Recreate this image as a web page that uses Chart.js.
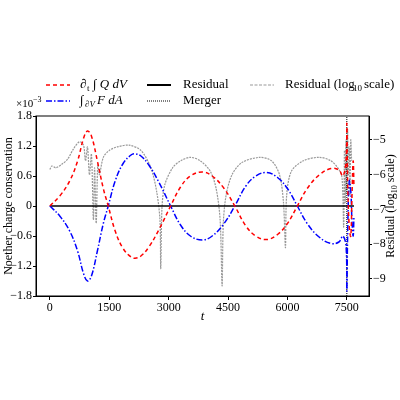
<!DOCTYPE html>
<html><head><meta charset="utf-8">
<script src="https://cdn.jsdelivr.net/npm/chart.js@4"></script>
<style>html,body{margin:0;background:#fff}#w{width:400px;height:400px}</style>
</head><body><div id="w"><canvas id="c"></canvas></div>
<script>
const redT=[0,250,500,700,850,950,1050,1200,1350,1475,1650,1850,2050,2150,2300,2500,2750,3050,3300,3550,3850,4100,4400,4670,4950,5200,5480,5750,6000,6250,6500,6800,7100,7300,7400,7480,7500,7520,7560,7600,7630,7660,7680];
const redV=[0,0.2,0.5,0.9,1.35,1.5,1.4,0.9,0.35,0,-0.5,-0.85,-1.02,-1.045,-1.0,-0.82,-0.48,0,0.38,0.6,0.68,0.6,0.35,0,-0.4,-0.6,-0.67,-0.57,-0.35,0,0.35,0.62,0.75,0.72,0.6,0.9,1.65,0.5,-0.4,-0.6,0.2,0.9,0.4];
const blueV=[0,-0.2,-0.5,-0.9,-1.35,-1.5,-1.4,-0.9,-0.35,0,0.5,0.85,1.02,1.045,1.0,0.82,0.48,0,-0.38,-0.6,-0.68,-0.6,-0.35,0,0.4,0.6,0.67,0.57,0.35,0,-0.35,-0.62,-0.75,-0.72,-0.6,-0.8,-1.7,-0.6,0.5,0.3,-0.3,-0.6,-0.2];
const resT=[0,7680];
const resV=[0,0];
const logT=[0,50,150,300,450,600,750,850,900,950,1000,1050,1100,1130,1170,1210,1250,1350,1500,1700,2000,2300,2550,2700,2780,2800,2830,2900,3100,3300,3550,3800,4050,4200,4300,4350,4380,4450,4600,4850,5300,5600,5800,5900,5950,5980,6100,6400,6800,7100,7300,7380,7420,7440,7460,7480,7500,7520,7540,7560,7580,7600,7620];
const logV=[-5.85,-5.75,-5.8,-5.7,-5.55,-5.25,-5.05,-5.15,-5.6,-5.2,-6.0,-5.4,-7.3,-5.8,-7.4,-5.7,-6.0,-5.5,-5.3,-5.2,-5.15,-5.3,-5.8,-6.5,-7.3,-8.7,-7.0,-6.3,-5.8,-5.6,-5.5,-5.6,-5.9,-6.4,-7.3,-9.2,-7.4,-6.6,-6.0,-5.65,-5.5,-5.6,-6.0,-6.8,-8.1,-6.6,-5.9,-5.6,-5.5,-5.6,-5.85,-6.1,-7.5,-5.3,-6.8,-5.0,-6.5,-4.7,-6.0,-5.2,-6.6,-5.0,-5.6];
const xTicks=[0,1500,3000,4500,6000,7500];
const yTicks=[-1.8,-1.2,-0.6,0,0.6,1.2,1.8];
const y2Ticks=[-9,-8,-7,-6,-5];
const mergerT=7500;
const pts=(t,v)=>t.map((x,i)=>({x,y:v[i]}));
const F='"Liberation Serif", serif';
const fmt=v=>String(v).replace('-','\u2212');
const legend={id:'lg',afterDraw(c){const g=c.ctx;g.save();g.font='13px '+F;g.textBaseline='middle';g.fillStyle='#000';
const L=(x,y,col,d,w)=>{g.beginPath();g.strokeStyle=col;g.lineWidth=w;g.setLineDash(d);g.moveTo(x,y);g.lineTo(x+24,y);g.stroke();g.setLineDash([]);};
L(46,85,'#ff0000',[4,3],1.5);g.fillText('\u2202',80,85);g.font='9px '+F;g.fillText('t',87,89);g.font='italic 13px '+F;g.fillText('\u222B Q dV',93,85);
L(147,85,'#000',[],2);g.font='13px '+F;g.fillText('Residual',183,85);
L(250,85,'#999',[3,1.5],1);g.fillText('Residual (log',285,85);g.font='9px '+F;g.fillText('10',353,89);g.font='13px '+F;g.fillText('scale)',364,85);
L(46,101,'#0000ff',[6,2,1.5,2],1.5);g.font='italic 13px '+F;g.fillText('\u222B',80,101);g.font='italic 9px '+F;g.fillText('\u2202V',85,105);g.font='italic 13px '+F;g.fillText('F dA',97,101);
L(147,101,'#000',[1,1],1);g.font='13px '+F;g.fillText('Merger',183,101);
g.font='11px '+F;g.fillText('\u00d710',16,104);g.font='8px '+F;g.fillText('\u22123',33,100);
// axis titles
g.save();g.translate(9,206);g.rotate(-Math.PI/2);g.textAlign='center';g.font='12px '+F;g.fillText('Noether charge conservation',0,0);g.restore();
g.save();g.translate(391,206);g.rotate(-Math.PI/2);g.font='12px '+F;
const a1='Residual (log',a2='10',a3=' scale)';g.font='12px '+F;const w1=g.measureText(a1).width,w3=g.measureText(a3).width;g.font='8px '+F;const w2=g.measureText(a2).width;
let x0=-(w1+w2+w3)/2;g.font='12px '+F;g.fillText(a1,x0,0);g.font='8px '+F;g.fillText(a2,x0+w1,4);g.font='12px '+F;g.fillText(a3,x0+w1+w2,0);g.restore();
g.strokeStyle='#000';g.lineWidth=1;const a=c.chartArea;g.strokeRect(a.left,a.top,a.right-a.left,a.bottom-a.top);g.restore();}};
new Chart(document.getElementById('c'),{type:'line',data:{datasets:[
{data:pts(redT,redV),borderColor:'#ff0000',borderWidth:1.5,borderDash:[4,3],pointRadius:0,tension:0.4,yAxisID:'y'},
{data:pts(redT,blueV),borderColor:'#0000ff',borderWidth:1.5,borderDash:[6,2,1.5,2],pointRadius:0,tension:0.4,yAxisID:'y'},
{data:pts(resT,resV),borderColor:'#000',borderWidth:1.5,pointRadius:0,yAxisID:'y'},
{data:[{x:mergerT,y:-1.8},{x:mergerT,y:1.8}],borderColor:'#000',borderWidth:1,borderDash:[1,1],pointRadius:0,yAxisID:'y'},
{data:pts(logT,logV),borderColor:'#999',borderWidth:1.2,borderDash:[2,1],pointRadius:0,tension:0.3,yAxisID:'y2'}
]},options:{animation:false,responsive:true,maintainAspectRatio:false,layout:{padding:{top:116,left:0,right:0,bottom:76}},
plugins:{legend:{display:false},tooltip:{enabled:false}},
scales:{x:{type:'linear',min:-350,max:8060,afterBuildTicks:s=>{s.ticks=xTicks.map(v=>({value:v}))},afterFit:s=>{s.height=28},
ticks:{color:'#000',font:{family:F,size:12},maxRotation:0,padding:1,callback:v=>String(v)},grid:{drawOnChartArea:false,tickLength:4,color:'#000'},border:{color:'#000'},
title:{display:true,text:'t',color:'#000',font:{family:F,size:13,style:'italic'},padding:0}},
y:{min:-1.8,max:1.8,afterBuildTicks:s=>{s.ticks=yTicks.map(v=>({value:v}))},afterFit:s=>{s.width=36},
ticks:{color:'#000',font:{family:F,size:12},callback:v=>fmt(v),padding:1},grid:{drawOnChartArea:false,tickLength:3,color:'#000'},border:{color:'#000'}},
y2:{position:'right',min:-9.49,max:-4.31,afterBuildTicks:s=>{s.ticks=y2Ticks.map(v=>({value:v}))},afterFit:s=>{s.width=31},
ticks:{color:'#000',font:{family:F,size:12},callback:v=>fmt(v),padding:1},grid:{drawOnChartArea:false,tickLength:3,color:'#000'},border:{color:'#000'}}}},plugins:[legend]});
</script></body></html>
